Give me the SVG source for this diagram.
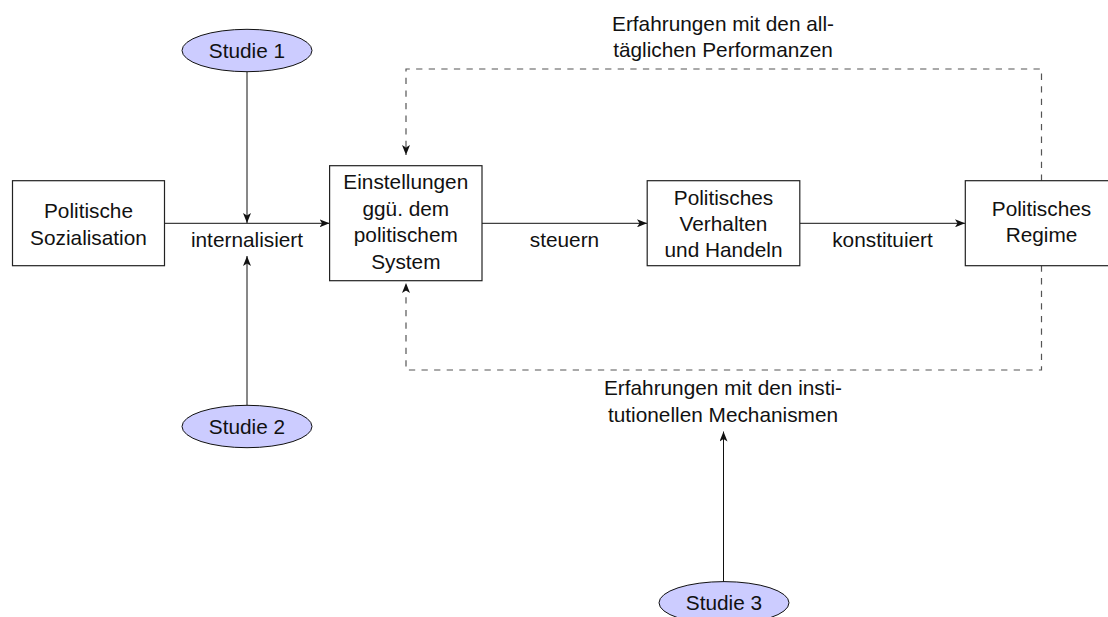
<svg xmlns="http://www.w3.org/2000/svg" width="1108" height="617" viewBox="0 0 1108 617">
<defs>
<style>
text{font-family:"Liberation Sans",Arial,sans-serif;font-size:20.8px;fill:#111;text-anchor:middle}
.box{fill:#fff;stroke:#222;stroke-width:1.2}
.ell{fill:#ccccff;stroke:#111;stroke-width:1}
.edge{fill:none;stroke:#111;stroke-width:1}
.dash{fill:none;stroke:#555;stroke-width:1.2;stroke-dasharray:6.3 6.3}
</style>
<marker id="ah" viewBox="0 0 10 8" refX="10" refY="4" markerWidth="10" markerHeight="8" markerUnits="userSpaceOnUse" orient="auto">
<path d="M0,0 L10,4 L0,8 L2.5,4 Z" fill="#111"/>
</marker>
</defs>
<rect width="1108" height="617" fill="#fff"/>
<g id="connectors">
<line class="edge" x1="165" y1="223.3" x2="329.5" y2="223.3" marker-end="url(#ah)"/>
<line class="edge" x1="482" y1="223.3" x2="647" y2="223.3" marker-end="url(#ah)"/>
<line class="edge" x1="800" y1="223.3" x2="965" y2="223.3" marker-end="url(#ah)"/>
<line class="edge" x1="247" y1="72" x2="247" y2="223" marker-end="url(#ah)"/>
<line class="edge" x1="247" y1="405" x2="247" y2="256" marker-end="url(#ah)"/>
<line class="edge" x1="723.5" y1="582" x2="723.5" y2="431.5" marker-end="url(#ah)"/>
<path class="dash" d="M1041.5,180.7 V69 H406 V155" marker-end="url(#ah)"/>
<path class="dash" d="M1041.5,265.5 V370 H406 V283" marker-end="url(#ah)"/>
<text x="247" y="246.5">internalisiert</text>
<text x="564.5" y="246.5">steuern</text>
<text x="882.5" y="246.5">konstituiert</text>
<text x="723" y="30.5">Erfahrungen mit den all-</text>
<text x="723" y="57">täglichen Performanzen</text>
<text x="723" y="395.3">Erfahrungen mit den insti-</text>
<text x="723" y="422">tutionellen Mechanismen</text>
</g>
<g id="sozialisation">
<rect class="box" x="12.5" y="180.7" width="152" height="85"/>
<text x="88.5" y="217.5">Politische</text>
<text x="88.5" y="244.5">Sozialisation</text>
</g>
<g id="einstellungen">
<rect class="box" x="329.6" y="165.7" width="152.4" height="115"/>
<text x="405.8" y="189">Einstellungen</text>
<text x="405.8" y="215.6">ggü. dem</text>
<text x="405.8" y="242.2">politischem</text>
<text x="405.8" y="268.8">System</text>
</g>
<g id="verhalten">
<rect class="box" x="647.2" y="180.7" width="152.6" height="85"/>
<text x="723.5" y="204.5">Politisches</text>
<text x="723.5" y="230.8">Verhalten</text>
<text x="723.5" y="257.2">und Handeln</text>
</g>
<g id="regime">
<rect class="box" x="965.3" y="180.7" width="152" height="85"/>
<text x="1041.5" y="215.6">Politisches</text>
<text x="1041.5" y="242.2">Regime</text>
</g>
<g id="studie1">
<ellipse class="ell" cx="247" cy="50.5" rx="65" ry="21.2"/>
<text x="247" y="58.3">Studie 1</text>
</g>
<g id="studie2">
<ellipse class="ell" cx="247" cy="426.5" rx="65" ry="21.2"/>
<text x="247" y="434">Studie 2</text>
</g>
<g id="studie3">
<ellipse class="ell" cx="724" cy="602.8" rx="65" ry="21.2"/>
<text x="724" y="610">Studie 3</text>
</g>
</svg>
